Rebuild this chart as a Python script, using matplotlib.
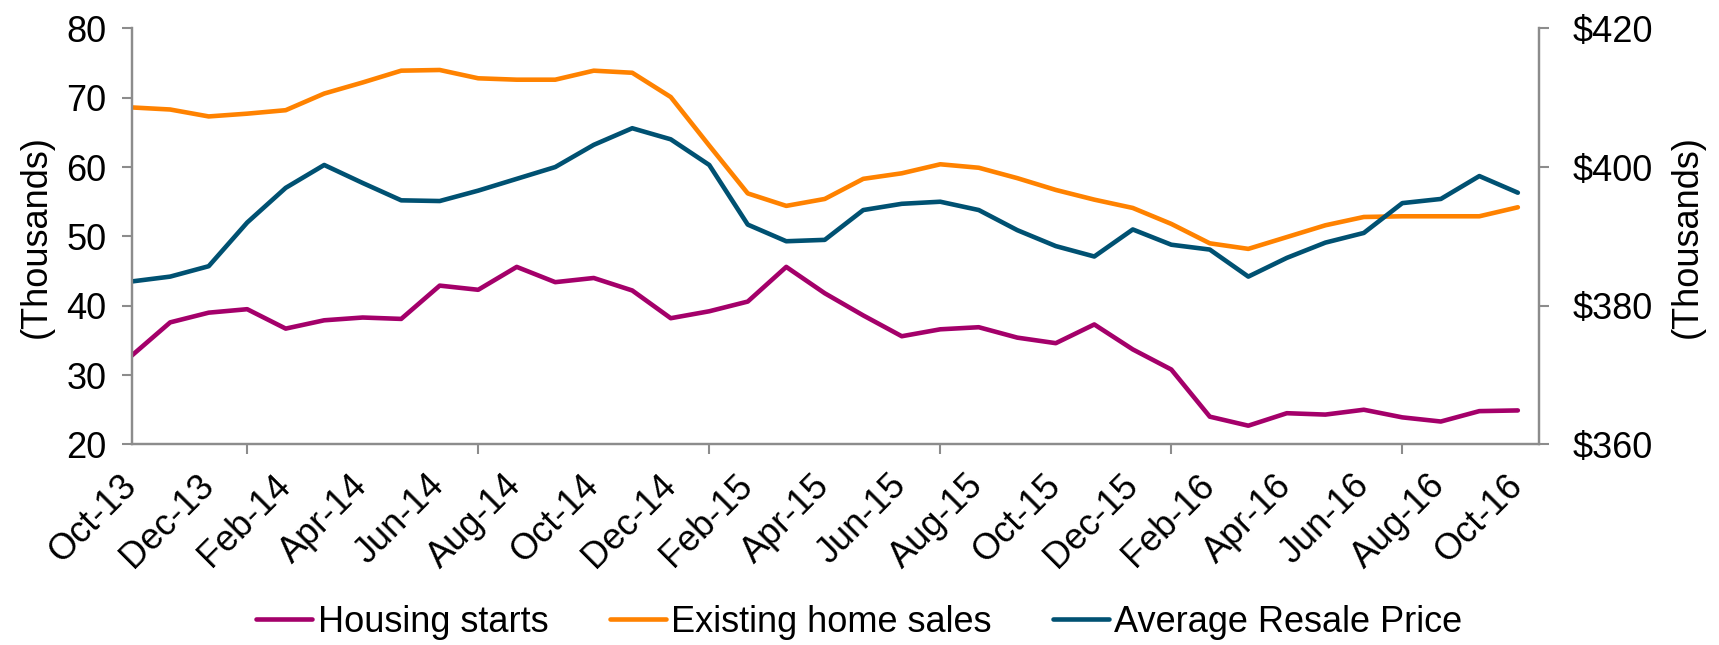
import matplotlib
matplotlib.use("Agg")
import matplotlib.pyplot as plt
import matplotlib.transforms as mtransforms
import numpy as np

plt.rcParams["font.family"] = ["Liberation Sans", "DejaVu Sans"]

# Monthly data Oct-13 .. Oct-16
months = ["Oct-13", "Nov-13", "Dec-13", "Jan-14", "Feb-14", "Mar-14", "Apr-14", "May-14", "Jun-14",
          "Jul-14", "Aug-14", "Sep-14", "Oct-14", "Nov-14", "Dec-14", "Jan-15", "Feb-15", "Mar-15",
          "Apr-15", "May-15", "Jun-15", "Jul-15", "Aug-15", "Sep-15", "Oct-15", "Nov-15", "Dec-15",
          "Jan-16", "Feb-16", "Mar-16", "Apr-16", "May-16", "Jun-16", "Jul-16", "Aug-16", "Sep-16", "Oct-16"]

housingStarts = [32.8, 37.6, 39.0, 39.5, 36.7, 37.9, 38.3, 38.1, 42.9, 42.3, 45.6, 43.4, 44.0,
                 42.2, 38.2, 39.2, 40.6, 45.6, 41.8, 38.6, 35.6, 36.6, 36.9, 35.4, 34.6, 37.3,
                 33.7, 30.8, 24.0, 22.7, 24.5, 24.3, 25.0, 23.9, 23.3, 24.8, 24.9]

existingSales = [68.6, 68.3, 67.3, 67.7, 68.2, 70.6, 72.2, 73.9, 74.0, 72.8, 72.6, 72.6, 73.9,
                 73.6, 70.1, 63.1, 56.2, 54.4, 55.4, 58.3, 59.1, 60.4, 59.9, 58.4, 56.7, 55.3,
                 54.1, 51.8, 49.0, 48.2, 49.9, 51.6, 52.8, 52.9, 52.9, 52.9, 54.2]

resalePrice = [383.5, 384.2, 385.7, 392.0, 397.0, 400.3, 397.7, 395.2, 395.1, 396.6, 398.3, 400.0, 403.2,
               405.6, 404.0, 400.3, 391.7, 389.3, 389.5, 393.8, 394.7, 395.0, 393.8, 390.9, 388.6, 387.1,
               391.0, 388.8, 388.1, 384.2, 386.9, 389.1, 390.5, 394.8, 395.4, 398.7, 396.3]

magenta = "#A4006A"
orange = "#FF8200"
navy = "#005172"
grey = "#8C8C8C"
fs = 26

x = np.arange(len(months))

fig = plt.figure(figsize=(17.19, 6.45), dpi=100)
ax = fig.add_axes([0.0766, 0.311, 0.8187, 0.645])
ax2 = ax.twinx()

l1, = ax.plot(x, housingStarts, color=magenta, lw=3.3, solid_capstyle="round", label="Housing starts")
l2, = ax.plot(x, existingSales, color=orange, lw=3.3, solid_capstyle="round", label="Existing home sales")
l3, = ax2.plot(x, resalePrice, color=navy, lw=3.3, solid_capstyle="round", label="Average Resale Price")

ax.set_xlim(0, 36.55)
ax.set_ylim(20, 80)
ax.set_yticks(range(20, 81, 10))
ax2.set_ylim(360, 420)
ax2.set_yticks([360, 380, 400, 420])
ax2.set_yticklabels(["$360", "$380", "$400", "$420"])

# labels every 2 months, tick marks every 3 months
ax.set_xticks(x[::2])
ax.set_xticklabels(months[::2], rotation=45, ha="right", va="top")
ax.set_xticks(x[::3], minor=True)
ax.tick_params(axis="x", which="major", length=0, pad=17, labelsize=fs)
ax.tick_params(axis="x", which="minor", length=7, color=grey, width=1.5)
ax.tick_params(axis="y", length=7, color=grey, width=1.5, labelsize=fs, pad=11)
ax2.tick_params(axis="y", length=7, color=grey, width=1.5, labelsize=fs, pad=17)

# nudge the rotated date labels a little to the right
offset = mtransforms.ScaledTranslation(12 / 100, 0, fig.dpi_scale_trans)
for lbl in ax.get_xticklabels():
    lbl.set_transform(lbl.get_transform() + offset)

for a in (ax, ax2):
    a.spines["top"].set_visible(False)
    for s in ("left", "right", "bottom"):
        a.spines[s].set_color(grey)
        a.spines[s].set_linewidth(1.6)

ax.set_ylabel("(Thousands)", fontsize=fs, labelpad=9)
ax2.set_ylabel("(Thousands)", fontsize=fs, labelpad=12)

fig.legend(handles=[l1, l2, l3], loc="center", bbox_to_anchor=(0.5, 1 - 622 / 645), ncol=3,
           frameon=False, fontsize=fs, handlelength=1.55, handletextpad=0.15, columnspacing=1.7)

fig.savefig("out.png", dpi=100)
